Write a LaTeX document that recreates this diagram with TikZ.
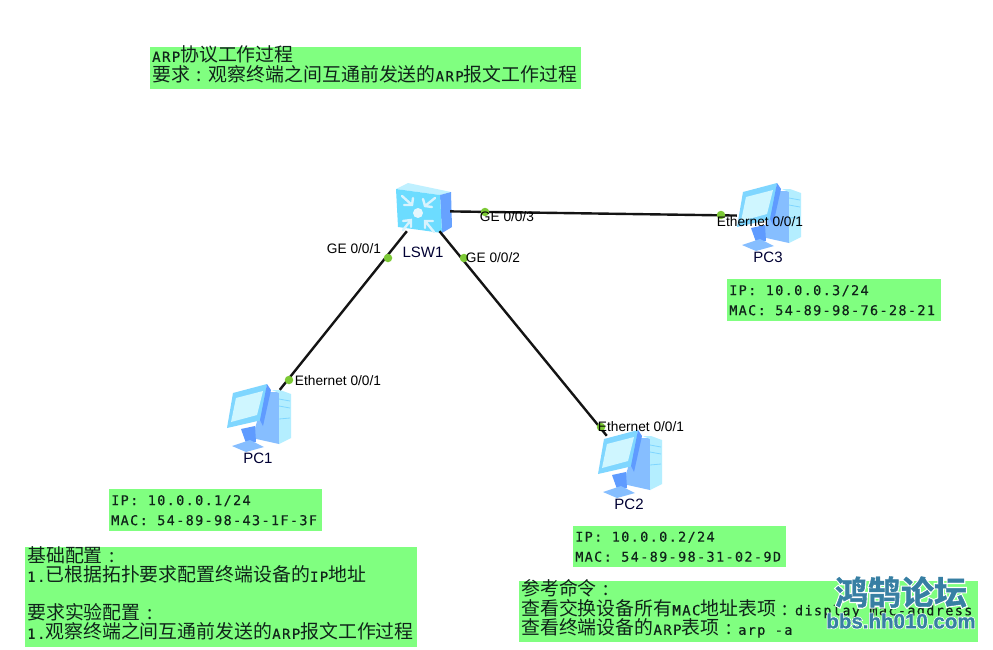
\documentclass[tikz,border=0pt]{standalone}
\usepackage{fontspec}
\setmainfont{Noto Sans CJK SC}
\newfontfamily\monoT[LetterSpace=10,FakeBold=0.4]{DejaVu Sans Mono}
\newfontfamily\labelT{Liberation Sans}
\newfontfamily\wmT[FakeBold=1.2]{Noto Sans CJK SC Bold}
\newfontfamily\wmHaloT[FakeBold=8]{Noto Sans CJK SC Bold}
\newfontfamily\wmLatT[FakeBold=0.8]{Liberation Sans Bold}
\newfontfamily\wmLatHaloT[FakeBold=8]{Liberation Sans Bold}
\newcommand{\asc}[1]{{\monoT\fontsize{14}{19.5}\selectfont #1}}
\newcommand{\ascs}[1]{{\monoT\fontsize{13.5}{19.5}\selectfont #1}}
\newcommand{\fc}{\makebox[18.9pt][c]{\fontsize{18.9}{19.5}\selectfont :}}
\newcommand{\gapsp}{\hspace{9.5pt}}
\newcommand{\lift}{\rule[-9pt]{0pt}{9pt}}
\definecolor{boxgreen}{HTML}{80FF80}
\definecolor{txtdark}{HTML}{10241A}
\definecolor{portgreen}{HTML}{7CC935}
\definecolor{linkdark}{HTML}{141414}
\definecolor{wmblue}{HTML}{377FA3}
\definecolor{iconA}{HTML}{7FD6FF}
\definecolor{iconB}{HTML}{CFF6FF}
\definecolor{iconC}{HTML}{86BEFF}
\definecolor{iconD}{HTML}{B4EEFF}
\definecolor{iconE}{HTML}{5F9BFF}
\tikzset{
  infobox/.style 2 args={anchor=north west,fill=boxgreen,text=txtdark,inner xsep=2pt,inner ysep=-8pt,
    text width=#1pt,minimum height=#2pt,align=left,font=\fontsize{18.9}{19.5}\selectfont},
  addrbox/.style 2 args={anchor=north west,fill=boxgreen,text=txtdark,inner xsep=2pt,inner ysep=0pt,
    text width=#1pt,minimum height=#2pt,align=left,font=\monoT\fontsize{13.5}{20}\selectfont},
  portlabel/.style={font=\labelT\fontsize{13.7}{15}\selectfont,text=black,inner sep=0pt},
  devlabel/.style={font=\labelT\fontsize{15}{17}\selectfont,text=black!80!blue,inner sep=0pt},
  devbox/.style={minimum width=62pt,minimum height=54pt,inner sep=0pt},
  swbox/.style={minimum width=54pt,minimum height=40pt,inner sep=0pt},
  linkline/.style={draw=linkdark,line width=2.4pt},
  portdot/.style={circle,fill=portgreen,minimum size=8.5pt,inner sep=0pt},
  pcicon/.pic={
    % tower
    \fill[iconC] (8,-25) -- (21,-25) -- (21,27) -- (-6,21) -- cycle;
    \fill[iconD] (14,-27) -- (22,-27) -- (33,-23) -- (33,21) -- (21,27) -- (21,-24) -- cycle;
    \draw[iconA,line width=.8pt] (21,-18) -- (32,-16) (21,-11) -- (32,-9) (21,2) -- (32,1);
    % stand
    \fill[iconE] (-17,12) -- (-3,9) -- (-2,25) -- (-12,26) -- cycle;
    \fill[iconC] (-26,29) -- (-8,23) -- (6,30) -- (-12,35) -- cycle;
    % monitor
    \fill[iconA] (-25,-24) -- (9,-33) -- (4,3) -- (-31,11) -- cycle;
    \fill[iconB] (-22,-19) -- (5,-26) -- (-1,-2) -- (-27,5) -- cycle;
    \fill[iconE] (9,-33) -- (13,-27) -- (5,9) -- (2,3) -- cycle;
  },
  swicon/.pic={
    \fill[iconB!80!iconA] (-27,-22) -- (-15,-28) -- (28,-19) -- (17,-16) -- cycle;
    \fill[iconE!80!iconC] (17,-16) -- (28,-19) -- (29,16) -- (19,22) -- cycle;
    \fill[iconA!85!cyan] (-27,-22) -- (17,-16) -- (19,22) -- (-25,16) -- cycle;
    \fill[white!90!cyan] (-5,2) circle (5);
    \draw[white!85!cyan,line width=2.4pt,line cap=round]
      (-21,-15) -- (-11,-6) (-10,-13) -- (-11,-6) -- (-19,-6)
      (12,-13) -- (2,-5) (0,-12) -- (2,-5) -- (9,-4)
      (-20,19) -- (-12,9) (-20,10) -- (-12,9) -- (-12,16)
      (11,21) -- (2,10) (2,17) -- (2,10) -- (10,10);
  }
}
\begin{document}
\begin{tikzpicture}[x=1pt,y=-1pt]
\useasboundingbox (0,0) rectangle (993,649);
\fill[white] (0,0) rectangle (993,649);

% devices
\node[swbox] (lsw) at (423,211) {};
\node[devbox] (pc1) at (258,417) {};
\node[devbox] (pc2) at (629,463) {};
\node[devbox] (pc3) at (768,216) {};

% icons
\pic at (lsw) {swicon};
\pic at (pc1) {pcicon};
\pic at (pc2) {pcicon};
\pic at (pc3) {pcicon};

% links
\draw[linkline] (lsw) -- (pc1);
\draw[linkline] (lsw) -- (pc2);
\draw[linkline] (lsw) -- (pc3);

% ports
\node[portdot] (p1) at (388,258) {};
\node[portdot] (p2) at (289,380) {};
\node[portdot] (p3) at (464,258) {};
\node[portdot] (p4) at (601,427) {};
\node[portdot] (p5) at (485,212) {};
\node[portdot] (p6) at (721,215) {};

% port labels
\node[portlabel] (l1) at (354,249) {GE 0/0/1};
\node[portlabel] (l2) at (338,381) {Ethernet 0/0/1};
\node[portlabel] (l3) at (493,258) {GE 0/0/2};
\node[portlabel] (l4) at (641,427) {Ethernet 0/0/1};
\node[portlabel] (l5) at (507,217) {GE 0/0/3};
\node[portlabel] (l6) at (760,222) {Ethernet 0/0/1};

% device labels
\node[devlabel] (n0) at (423,252) {LSW1};
\node[devlabel] (n1) at (258,458) {PC1};
\node[devlabel] (n2) at (629,504) {PC2};
\node[devlabel] (n3) at (768,257) {PC3};

% text boxes
\node[infobox={427}{42}] (top) at (150,47) {\asc{ARP}协议工作过程\\要求\fc 观察终端之间互通前发送的\asc{ARP}报文工作过程\lift};
\node[addrbox={210}{42}] (a3) at (727,279) {IP:\gapsp 10.0.0.3/24\\MAC:\gapsp 54-89-98-76-28-21};
\node[addrbox={209}{42}] (a1) at (109,489) {IP:\gapsp 10.0.0.1/24\\MAC:\gapsp 54-89-98-43-1F-3F};
\node[addrbox={209}{41}] (a2) at (573,526) {IP:\gapsp 10.0.0.2/24\\MAC:\gapsp 54-89-98-31-02-9D};
\node[infobox={388}{100}] (base) at (25,547) {基础配置\fc\\\asc{1.}已根据拓扑要求配置终端设备的\asc{IP}地址\\[18pt]要求实验配置\fc\\\asc{1.}观察终端之间互通前发送的\asc{ARP}报文工作过程\lift};
\node[infobox={455}{61}] (ref) at (519,581) {参考命令\fc\\\mbox{查看交换设备所有\asc{MAC}地址表项\fc\ascs{display\gapsp mac-address}}\\查看终端设备的\asc{ARP}表项\fc\ascs{arp\gapsp -a}\lift};

% watermark
\node[font=\wmHaloT\fontsize{33}{36}\selectfont,text=white,inner sep=0pt] (wm1h) at (901,592) {鸿鹄论坛};
\node[font=\wmT\fontsize{33}{36}\selectfont,text=wmblue,inner sep=0pt] (wm1) at (901,592) {鸿鹄论坛};
\node[font=\wmLatHaloT\fontsize{20.5}{22}\selectfont,text=white,inner sep=0pt] (wm2h) at (901,621) {bbs.hh010.com};
\node[font=\wmLatT\fontsize{20.5}{22}\selectfont,text=wmblue,inner sep=0pt] (wm2) at (901,621) {bbs.hh010.com};
\end{tikzpicture}
\end{document}
